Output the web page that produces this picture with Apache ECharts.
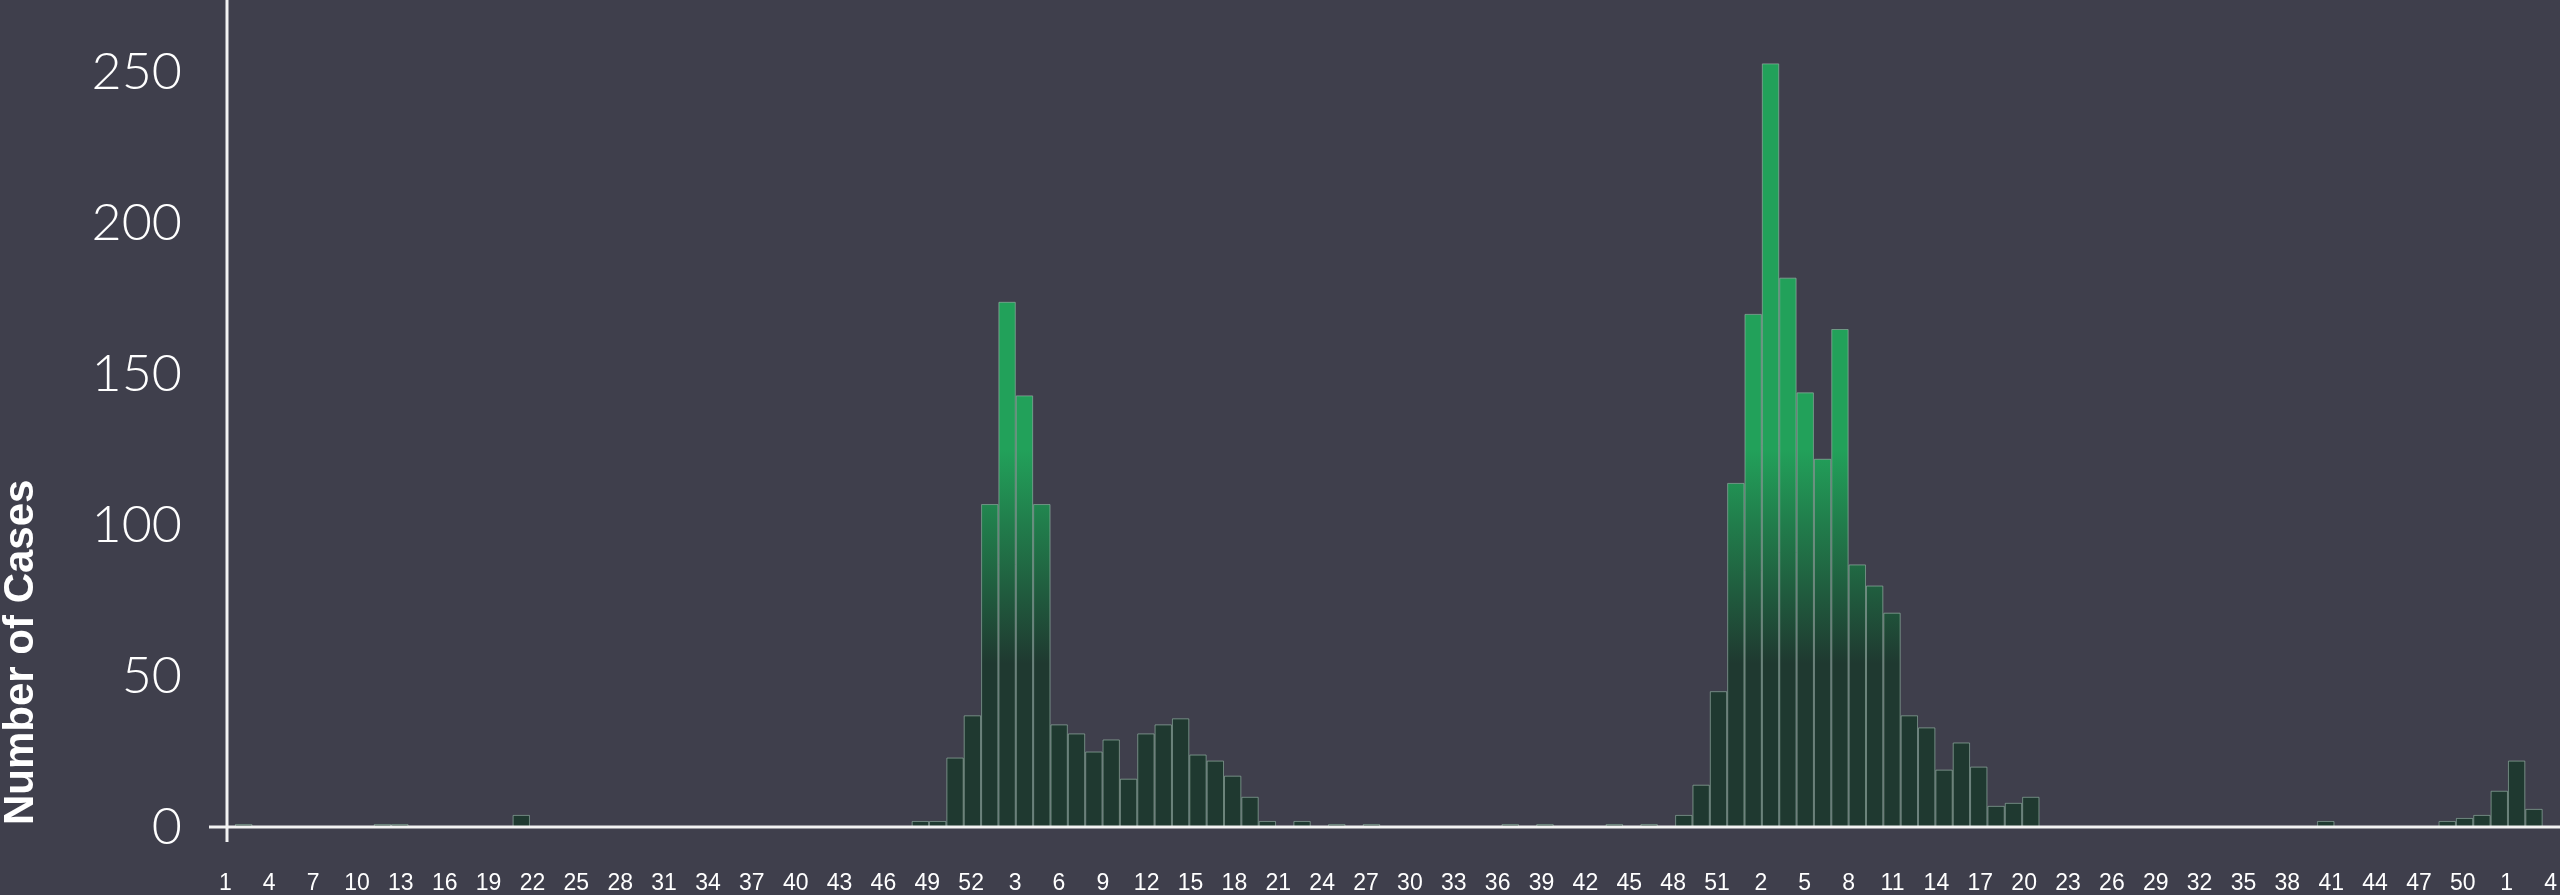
<!DOCTYPE html>
<html>
<head>
<meta charset="utf-8">
<script src="https://cdn.jsdelivr.net/npm/echarts@6/dist/echarts.min.js"></script>
<style>
  html, body { margin: 0; padding: 0; background: #3f3f4c; }
  #chart { width: 2560px; height: 895px; }
</style>
</head>
<body>
<div id="chart"></div>
<script>
// ---- data ----
// weekly case counts, one bar per slot
const caseCounts = [
  1, 0, 0, 0, 0, 0, 0, 0, 1, 1,
  0, 0, 0, 0, 0, 0, 4, 0, 0, 0,
  0, 0, 0, 0, 0, 0, 0, 0, 0, 0,
  0, 0, 0, 0, 0, 0, 0, 0, 0, 2,
  2, 23, 37, 107, 174, 143, 107, 34, 31, 25,
  29, 16, 31, 34, 36, 24, 22, 17, 10, 2,
  0, 2, 0, 1, 0, 1, 0, 0, 0, 0,
  0, 0, 0, 1, 0, 1, 0, 0, 0, 1,
  0, 1, 0, 4, 14, 45, 114, 170, 253, 182,
  144, 122, 165, 87, 80, 71, 37, 33, 19, 28,
  20, 7, 8, 10, 0, 0, 0, 0, 0, 0,
  0, 0, 0, 0, 0, 0, 0, 0, 0, 0,
  2, 0, 0, 0, 0, 0, 0, 2, 3, 4,
  12, 22, 6, 0
];
const barSlots = caseCounts.map((_, i) => 'slot ' + (i + 1));

// week-number tick labels along the x axis
const weeksYear1 = [1,2,3,4,5,6,7,8,9,10,11,12,13,14,15,16,17,18,19,20,21,22,23,24,25,26,27,28,29,30,31,32,33,34,35,36,37,38,39,40,41,42,43,44,45,46,47,48,49,50,51,52];
const weeksYear2 = [1,2,3,4,5,6,7,8,9,10,11,12,13,14,15,16,17,18,19,20,21,22,23,24,25,26,27,28,29,30,31,32,33,34,35,36,37,38,39,40,41,42,43,44,45,46,47,48,49,50,51,52];
const weeksYear3 = [1,2,3,4,5,6,7,8,9,10,11,12,13,14,15,16,17,18,19,20,21,22,23,24,25,26,27,28,29,30,31,32,33,34,35,36,37,38,39,40,41,42,43,44,45,46,47,48,49,50,51,52];
const weeksYear4 = [1,2,3,4];
const tickLabels = [].concat(weeksYear1, weeksYear2, weeksYear3, weeksYear4).map(String);

const yAxisTitle = 'Number of Cases';

// ---- chart ----
const GRID_LEFT = 235;
const GRID_BOTTOM = 68;
const chart = echarts.init(document.getElementById('chart'), null, { renderer: 'canvas' });

const option = {
  backgroundColor: '#3f3f4c',
  animation: false,
  grid: [
    { left: GRID_LEFT, right: -6, top: 0, bottom: GRID_BOTTOM },
    { left: 218, right: 0, top: 0, bottom: GRID_BOTTOM }
  ],
  xAxis: [
    {
      type: 'category', gridIndex: 0, data: barSlots, boundaryGap: true,
      axisLine: { show: false }, axisTick: { show: false }, axisLabel: { show: false }, splitLine: { show: false }
    },
    {
      type: 'category', gridIndex: 1, data: tickLabels, boundaryGap: true,
      axisLine: { show: false }, axisTick: { show: false }, splitLine: { show: false },
      axisLabel: { interval: 2, color: '#ffffff', fontSize: 23, fontFamily: 'Liberation Sans, Arial, sans-serif', margin: 45 }
    }
  ],
  yAxis: [
    {
      type: 'value', gridIndex: 0, min: 0, max: 274, interval: 50,
      axisLine: { show: false }, axisTick: { show: false }, splitLine: { show: false },
      axisLabel: {
        color: '#ffffff', fontSize: 52, fontFamily: 'Lato, sans-serif', fontWeight: 300, margin: 53,
        formatter: v => (v % 50 === 0 ? String(v) : '')
      }
    },
    { type: 'value', gridIndex: 1, min: 0, max: 274, show: false }
  ],
  series: [
    {
      type: 'bar', xAxisIndex: 0, yAxisIndex: 0, data: caseCounts,
      barCategoryGap: '0%',
      itemStyle: { color: '#1f3930', borderColor: 'rgba(150,180,165,0.38)', borderWidth: 1 }
    }
  ]
};
chart.setOption(option);

// gradient in global (pixel) coordinates taken from the value axis
const yBright = chart.convertToPixel({ yAxisIndex: 0 }, 125);
const yDark = chart.convertToPixel({ yAxisIndex: 0 }, 54);
const y0 = chart.convertToPixel({ yAxisIndex: 0 }, 0);
const W = chart.getWidth();

chart.setOption({
  series: [{
    itemStyle: {
      color: new echarts.graphic.LinearGradient(0, yBright, 0, yDark, [
        { offset: 0, color: '#22a15a' },
        { offset: 1, color: '#1f3930' }
      ], true)
    }
  }],
  graphic: [
    {
      type: 'line', z: 100,
      shape: { x1: GRID_LEFT - 26, y1: y0, x2: W, y2: y0 },
      style: { stroke: '#f2f2f2', lineWidth: 3 }
    },
    {
      type: 'line', z: 100,
      shape: { x1: GRID_LEFT - 8, y1: 0, x2: GRID_LEFT - 8, y2: y0 + 15 },
      style: { stroke: '#f2f2f2', lineWidth: 3 }
    },
    {
      type: 'text', z: 100, x: 21, y: y0 - 2, rotation: Math.PI / 2,
      style: {
        text: yAxisTitle, fill: '#ffffff',
        font: 'bold 42px "Liberation Sans", Arial, sans-serif',
        align: 'left', verticalAlign: 'middle', textAlign: 'left', textVerticalAlign: 'middle'
      }
    }
  ]
});
</script>
</body>
</html>
